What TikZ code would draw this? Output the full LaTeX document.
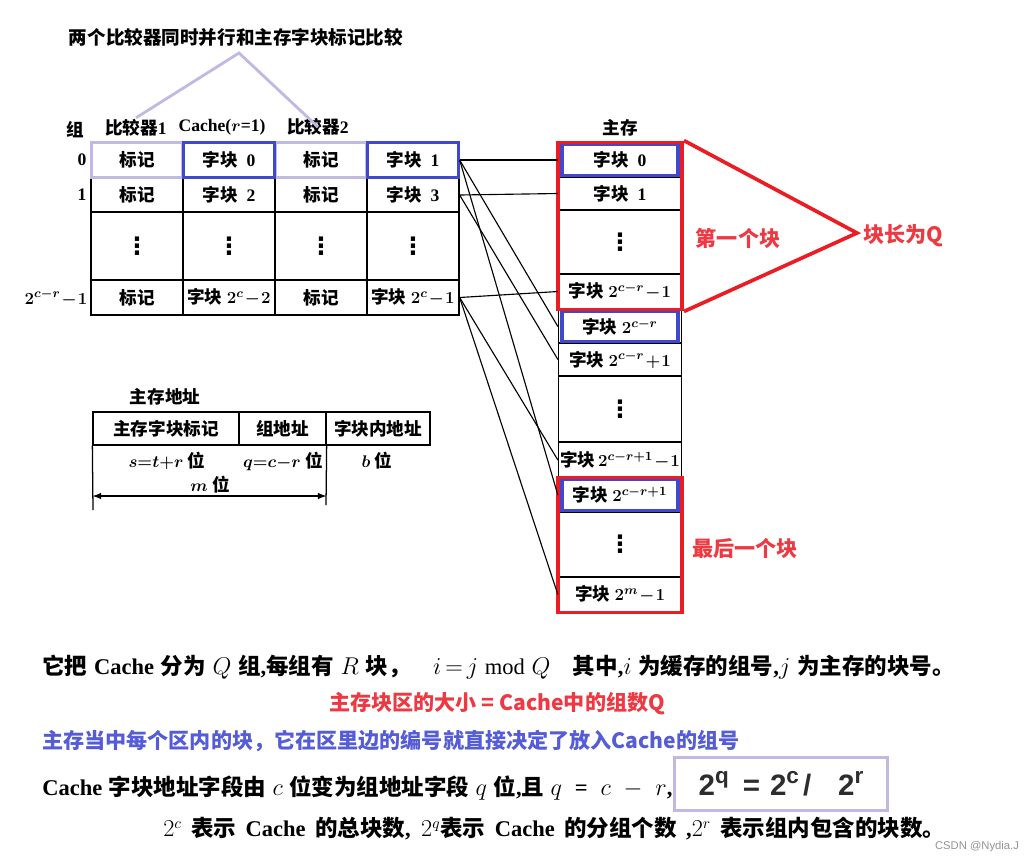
\documentclass[tikz,border=0pt]{standalone}
\usepackage{fontspec}
\setmainfont{Liberation Serif}
\newfontfamily\cjk{Noto Sans CJK SC}
\newfontfamily\hei{Liberation Sans}
\newfontfamily\dv{DejaVu Sans}
\usetikzlibrary{arrows.meta,fit,calc}
\definecolor{lav}{RGB}{192,186,226}
\definecolor{hlblue}{RGB}{64,72,204}
\definecolor{hlred}{RGB}{236,28,36}
\definecolor{notered}{RGB}{238,56,66}
\definecolor{noteblue}{RGB}{84,92,214}
\definecolor{inkgray}{RGB}{45,45,45}
\newcommand\zh[1]{{\cjk\bfseries #1}}
\newcommand\upidx[1]{\raisebox{0.75ex}{\fontsize{16}{16}\selectfont #1}}
\newcommand\vdotz{{\dv\bfseries\fontsize{17}{17}\selectfont ⋮}}
\tikzset{
  >={Latex[length=2.2mm]},
  cell/.style={draw,line width=0.9pt,inner sep=0pt,minimum width=2.3cm,minimum height=#1,
    font=\fontsize{12.5}{14}\selectfont\bfseries\boldmath},
  cell/.default=0.875cm,
  mcell/.style={cell=#1,minimum width=3.075cm},
  acell/.style={draw,line width=0.9pt,inner sep=0pt,minimum height=0.825cm,minimum width=#1,
    font=\fontsize{12.5}{14}\selectfont\bfseries},
  lbl/.style={inner sep=1pt,font=\fontsize{12.5}{14}\selectfont\bfseries\boldmath},
  bluebox/.style={draw=hlblue,line width=2.4pt},
  lavbox/.style={draw=lav,line width=2pt},
  redbox/.style={draw=hlred,line width=2.6pt,inner sep=0pt},
  redline/.style={draw=hlred,line width=2.6pt},
  lavline/.style={draw=lav,line width=2pt},
  link/.style={line width=0.8pt},
  note/.style={text=#1,inner sep=1pt,font=\cjk\bfseries\fontsize{15}{18}\selectfont},
  note/.default=notered,
  body/.style={anchor=west,inner sep=0pt,font=\fontsize{16}{19}\selectfont\bfseries},
}
\begin{document}
\begin{tikzpicture}[x=0.025cm,y=-0.025cm]
  \fill[white] (0,0) rectangle (1036,863);
  \useasboundingbox (0,0) rectangle (1036,863);

  % headings
  \node[lbl,font=\cjk\bfseries\fontsize{13.2}{15}\selectfont] (title) at (236,37) {两个比较器同时并行和主存字块标记比较};
  \node[lbl] (grp) at (75,130) {\zh{组}};
  \node[lbl] (cmp1) at (136,128) {\zh{比较器}1};
  \node[lbl] (cachelbl) at (222,127) {Cache($r$=1)};
  \node[lbl] (cmp2) at (318,127) {\zh{比较器}2};
  \node[lbl] (mainlbl) at (620,128) {\zh{主存}};
  \coordinate (peak) at (239,53);
  \draw[lavline] (cmp1.north) -- (peak) -- (cmp2.center);

  % cache, two comparators
  \node[lbl] (g0) at (82,160) {0};
  \node[lbl] (g1) at (82,195) {1};
  \node[lbl,anchor=east] (gl) at (89,298) {$2^{c-r}\!-\!1$};
  \foreach \r/\y/\h in {0/160/0.9cm,1/195/0.85cm,3/297.5/0.875cm}{
    \node[cell=\h] (a\r) at (137,\y) {\zh{标记}};
    \node[cell=\h] (c\r) at (321,\y) {\zh{标记}};
  }
  \foreach \k/\x in {a/137,b/229,c/321,d/413}
    \node[cell=1.7cm] (\k2) at (\x,246) {\vdotz};
  \node[cell=0.9cm] (b0) at (229,160) {\zh{字块}\ \ 0};
  \node[cell=0.9cm] (d0) at (413,160) {\zh{字块}\ \ 1};
  \node[cell=0.85cm] (b1) at (229,195) {\zh{字块}\ \ 2};
  \node[cell=0.85cm] (d1) at (413,195) {\zh{字块}\ \ 3};
  \node[cell] (b3) at (229,297.5) {\zh{字块}\ $2^{c}\!-\!2$};
  \node[cell] (d3) at (413,297.5) {\zh{字块}\ $2^{c}\!-\!1$};
  \foreach \n in {a0,c0}
    \draw[lavbox] ([shift={(1,1)}]\n.north west) rectangle ([shift={(-1,-1)}]\n.south east);
  \foreach \n in {b0,d0}
    \draw[bluebox] ([shift={(1,1)}]\n.north west) rectangle ([shift={(-1,-1)}]\n.south east);

  % main memory
  \node[mcell=0.85cm] (m0) at (620,160) {\zh{字块}\ \ 0};
  \node[mcell=0.825cm] (m1) at (620,193.5) {\zh{字块}\ \ 1};
  \node[mcell=1.6cm] (m2) at (620,242) {\vdotz};
  \node[mcell=0.875cm] (m3) at (620,291.5) {\zh{字块}\ $2^{c-r}\!-\!1$};
  \node[mcell=0.825cm] (m4) at (620,326.5) {\zh{字块}\ $2^{c-r}$};
  \node[mcell=0.825cm] (m5) at (620,359.5) {\zh{字块}\ $2^{c-r}\!+\!1$};
  \node[mcell=1.65cm] (m6) at (620,409) {\vdotz};
  \node[mcell=0.9cm] (m7) at (620,460) {\zh{字块}\,$2^{c-r+1}\!-\!1$};
  \node[mcell=0.85cm] (m8) at (620,495) {\zh{字块}\ $2^{c-r+1}$};
  \node[mcell=1.625cm] (m9) at (620,544.5) {\vdotz};
  \node[mcell=0.875cm] (m10) at (620,594.5) {\zh{字块}\ $2^{m}\!-\!1$};
  \foreach \n in {m0,m4,m8}
    \draw[bluebox] ([shift={(4,2)}]\n.north west) rectangle ([shift={(-4,-2)}]\n.south east);
  \node[redbox,fit=(m0)(m3)] (blk1) {};
  \node[redbox,fit=(m8)(m10)] (blkn) {};
  \coordinate (tip) at (857,233);
  \draw[redline] (blk1.north east) -- (tip) -- (blk1.south east);
  \node[note] (first) at (738,238) {第一个块};
  \node[note,anchor=west] (qlen) at (862,236) {块长为Q};
  \node[note] (last) at (745,548) {最后一个块};

  % mapping
  \foreach \s/\t in {d0/m0,d0/m4,d0/m8,d1/m1,d1/m5,d3/m3,d3/m7,d3/m10}
    \draw[link] (\s.east) -- (\t.west);

  % address fields
  \node[lbl] (addrlbl) at (165,397) {\zh{主存地址}};
  \node[acell=3.65cm] (f1) at (166,428.5) {\zh{主存字块标记}};
  \node[acell=2.175cm] (f2) at (282.5,428.5) {\zh{组地址}};
  \node[acell=2.6cm] (f3) at (378,428.5) {\zh{字块内地址}};
  \node[lbl] (s1) at (167,461) {$s{=}t{+}r$ \zh{位}};
  \node[lbl] (s2) at (283,461) {$q{=}c{-}r$ \zh{位}};
  \node[lbl] (s3) at (377,461) {$b$ \zh{位}};
  \node[lbl] (s4) at (210,485) {$m$ \zh{位}};
  \coordinate (mL) at (93,510);
  \coordinate (mR) at (326,505);
  \coordinate (mbar) at (200,496);
  \draw[line width=0.9pt] (f1.south west) -- (mL) (f2.south east) -- (mR);
  \draw[<->,line width=0.9pt] (f1.south west |- mbar) -- (f2.south east |- mbar);

  % explanation
  \node[body] (t1) at (42,667) {\makebox[22.8cm][s]{\zh{它把} Cache \zh{分为} $Q$ \zh{组},\zh{每组有} $R$ \zh{块，}\quad $i\,{=}\,j \bmod Q$\quad \zh{其中},$i$ \zh{为缓存的组号},$j$ \zh{为主存的块号。}}};
  \node[note] (t2) at (497,704) {主存块区的大小 = Cache中的组数Q};
  \node[note=noteblue,anchor=west,inner sep=0pt] (t3) at (42,741) {主存当中每个区内的块，它在区里边的编号就直接决定了放入Cache的组号};
  \node[body] (t4) at (42,788) {\makebox[15.75cm][s]{Cache \zh{字块地址字段由} $c$ \zh{位变为组地址字段} $q$ \zh{位},\zh{且} $q$ \ = \ $c$ \ $-$ \ $r$,}};
  \node[lavbox,minimum width=5.325cm,minimum height=1.325cm,text=inkgray,
    font=\hei\bfseries\fontsize{21}{24}\selectfont] (frm) at (781,784)
    {2\upidx{q}\hspace{10pt}=\hspace{7pt}2\upidx{c}\hspace{3pt}/\hspace{19pt}2\upidx{r}};
  \node[body] (t5) at (163,829) {\makebox[19.55cm][s]{$2^c$ \zh{表示} Cache \zh{的总块数}, $2^q$\zh{表示} Cache \zh{的分组个数} ,$2^r$ \zh{表示组内包含的块数。}}};
  \node[text=black!42,font=\hei\fontsize{8}{9}\selectfont] (mark) at (977,847) {CSDN @Nydia.J};
\end{tikzpicture}
\end{document}
